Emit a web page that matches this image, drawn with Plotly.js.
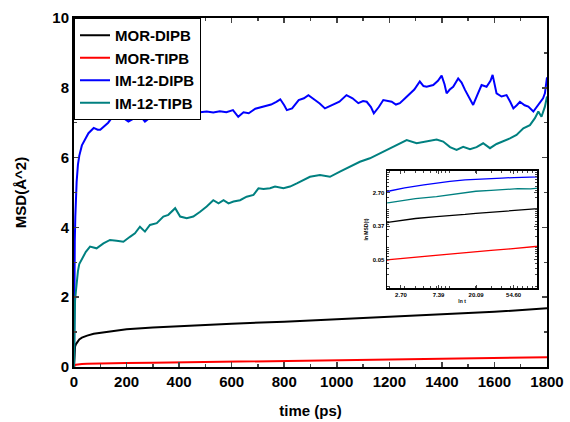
<!DOCTYPE html>
<html><head><meta charset="utf-8">
<script src="https://cdn.plot.ly/plotly-3.0.1.min.js"></script>
<style>html,body{margin:0;padding:0;background:#fff}#chart{width:570px;height:422px}</style>
</head><body><div id="chart"></div>
<script>
// Smooth series (MOR)
const timeSmooth = [0,1,2,4,7,10,15,20,30,50,75,100,150,200,300,400,500,600,800,1000,1200,1400,1600,1800];
const msdMorDipb = [0,0.3,0.47,0.58,0.65,0.68,0.74,0.79,0.84,0.9,0.95,0.98,1.04,1.08,1.13,1.17,1.2,1.24,1.3,1.37,1.44,1.51,1.58,1.68];
const msdMorTipb = [0,0.03,0.05,0.058,0.063,0.068,0.074,0.08,0.087,0.095,0.1,0.105,0.11,0.115,0.12,0.13,0.14,0.15,0.17,0.19,0.21,0.23,0.25,0.28];

// IM-12-DIPB
const timeImDipb = [0,1,2,3,5,7,10,15,20,30,40,55,75,90,100,115,130,145,155,170,185,207,225,250,270,290,315,345,370,390,410,435,455,480,505,530,555,580,605,625,645,665,690,720,750,770,785,800,810,830,855,875,892,917,935,955,975,987,1010,1037,1060,1082,1100,1114,1130,1141,1160,1177,1195,1209,1225,1240,1260,1278,1295,1316,1330,1342,1367,1385,1399,1410,1418,1430,1443,1462,1475,1488,1505,1519,1535,1551,1570,1585,1593,1600,1608,1627,1646,1660,1672,1685,1697,1715,1729,1748,1760,1773,1785,1792,1800];
const msdImDipb = [0,2.5,3.0,3.6,4.3,4.8,5.3,5.8,6.05,6.35,6.5,6.7,6.85,6.8,6.8,6.9,7.0,7.15,7.28,7.2,7.15,7.03,7.12,7.22,7.03,7.15,7.22,7.36,7.33,7.36,7.25,7.17,7.34,7.3,7.32,7.29,7.33,7.3,7.36,7.17,7.3,7.27,7.4,7.46,7.52,7.6,7.67,7.5,7.36,7.41,7.65,7.7,7.79,7.65,7.55,7.41,7.48,7.51,7.6,7.79,7.7,7.56,7.62,7.6,7.45,7.27,7.45,7.65,7.62,7.6,7.52,7.56,7.7,7.84,7.95,8.18,8.05,8.03,8.08,8.2,8.35,8.1,7.84,7.95,8.03,8.27,8.15,7.94,7.7,7.51,7.8,8.08,8.03,8.2,8.37,8.15,7.84,7.75,7.79,7.6,7.41,7.5,7.6,7.5,7.46,7.32,7.45,7.6,7.7,7.84,8.3];

// IM-12-TIPB
const timeImTipb = [0,1,2,4,7,10,15,20,30,45,61,86,112,137,162,188,213,232,251,270,289,315,340,359,385,404,429,454,480,505,530,550,569,588,607,632,657,683,702,721,746,765,797,822,848,873,898,936,974,1012,1050,1088,1126,1164,1196,1228,1266,1304,1342,1380,1405,1431,1456,1481,1507,1532,1557,1583,1608,1633,1659,1684,1710,1735,1754,1767,1779,1792,1800];
const msdImTipb = [0,1.2,1.5,1.9,2.15,2.4,2.75,2.95,3.1,3.3,3.45,3.4,3.54,3.64,3.62,3.59,3.73,3.83,4.02,3.88,4.07,4.12,4.31,4.36,4.55,4.31,4.26,4.31,4.45,4.6,4.78,4.69,4.78,4.69,4.74,4.78,4.88,4.93,5.12,5.1,5.12,5.17,5.12,5.17,5.26,5.36,5.45,5.5,5.45,5.6,5.74,5.88,5.98,6.12,6.24,6.36,6.5,6.41,6.46,6.52,6.46,6.3,6.22,6.31,6.24,6.3,6.41,6.27,6.39,6.46,6.55,6.65,6.84,6.93,7.13,7.32,7.17,7.46,7.75];

const seriesNames = ['MOR-DIPB','MOR-TIPB','IM-12-DIPB','IM-12-TIPB'];
const seriesColors = ['#000000','#ff0000','#0000ff','#008080'];
const xTickVals = [0,200,400,600,800,1000,1200,1400,1600,1800];
const yTickVals = [0,2,4,6,8,10];
const insetXTickVals = [2.718,7.389,20.09,54.6];
const insetXTickText = ['2.70','7.39','20.09','54.60'];
const insetYTickVals = [2.718,0.3679,0.04979];
const insetYTickText = ['2.70','0.37','0.05'];

const xs = [timeSmooth,timeSmooth,timeImDipb,timeImTipb];
const ys = [msdMorDipb,msdMorTipb,msdImDipb,msdImTipb];

const traces = [];
for (let i=0;i<4;i++){
  traces.push({x:xs[i],y:ys[i],type:'scatter',mode:'lines',name:seriesNames[i],
    line:{color:seriesColors[i],width:2},xaxis:'x',yaxis:'y'});
}
for (let i=0;i<4;i++){
  traces.push({x:xs[i],y:ys[i],type:'scatter',mode:'lines',showlegend:false,
    line:{color:seriesColors[i],width:1.3},xaxis:'x2',yaxis:'y2'});
}

const FAM = 'Liberation Sans, Arial, sans-serif';
const layout = {
  width:570,height:422,
  margin:{l:74,r:23,t:18,b:55},
  paper_bgcolor:'#fff',plot_bgcolor:'#fff',
  showlegend:true,
  font:{family:FAM,size:14,color:'#000'},
  legend:{x:0,y:1,xanchor:'left',yanchor:'top',bgcolor:'#fff',bordercolor:'#000',borderwidth:1,
    font:{family:FAM,size:15,color:'#000',weight:'bold'},
    tracegroupgap:0,itemwidth:30},
  xaxis:{domain:[0,1],range:[0,1800],tickvals:xTickVals,ticks:'inside',ticklen:5,tickwidth:1.5,
    showline:true,linewidth:2,linecolor:'#000',mirror:'ticks',showgrid:false,zeroline:false,
    tickfont:{family:FAM,size:15,weight:'bold'},
    minor:{ticks:'inside',dtick:100,ticklen:3,tickwidth:1.5},
    title:{text:'time (ps)',standoff:16,font:{family:FAM,size:15,weight:'bold'}}},
  yaxis:{domain:[0,1],range:[0,10],tickvals:yTickVals,ticks:'inside',ticklen:5,tickwidth:1.5,
    showline:true,linewidth:2,linecolor:'#000',mirror:'ticks',showgrid:false,zeroline:false,
    tickfont:{family:FAM,size:15,weight:'bold'},
    minor:{ticks:'inside',dtick:1,ticklen:3,tickwidth:1.5},
    title:{text:'MSD(Å^2)',standoff:22,font:{family:FAM,size:15,weight:'bold'}}},
  xaxis2:{domain:[0.662,0.979],anchor:'y2',type:'log',range:[Math.log10(1.88),Math.log10(102)],
    tickvals:insetXTickVals,ticktext:insetXTickText,ticks:'inside',ticklen:3,tickwidth:1,
    showline:true,linewidth:1.5,linecolor:'#000',mirror:'ticks',showgrid:false,zeroline:false,
    tickfont:{family:FAM,size:6,weight:'bold'},
    minor:{ticks:'inside',ticklen:2,tickwidth:1,dtick:'D1'},
    title:{text:'ln t',standoff:2,font:{family:FAM,size:5,weight:'bold'}}},
  yaxis2:{domain:[0.226,0.562],anchor:'x2',type:'log',range:[Math.log10(Math.exp(-4.7)),Math.log10(Math.exp(2.3))],
    tickvals:insetYTickVals,ticktext:insetYTickText,ticks:'inside',ticklen:3,tickwidth:1,
    showline:true,linewidth:1.5,linecolor:'#000',mirror:'ticks',showgrid:false,zeroline:false,
    tickfont:{family:FAM,size:6,weight:'bold'},
    minor:{ticks:'inside',ticklen:2,tickwidth:1,dtick:'D1'},
    title:{text:'ln MSD(t)',standoff:4,font:{family:FAM,size:5,weight:'bold'}}}
};
Plotly.newPlot('chart',traces,layout,{displayModeBar:false,staticPlot:true});
</script></body></html>
